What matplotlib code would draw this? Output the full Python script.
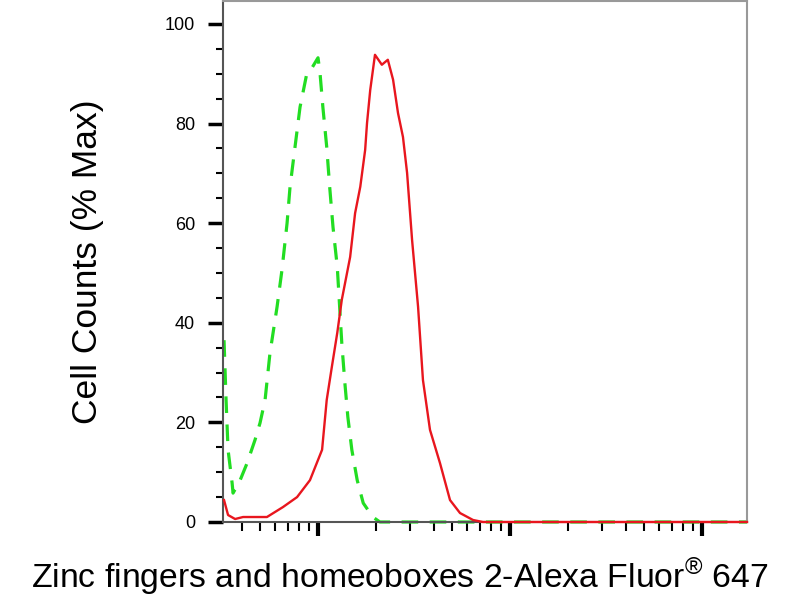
import numpy as np
import matplotlib
matplotlib.use("Agg")
import matplotlib.pyplot as plt
from matplotlib.ticker import LogLocator, MultipleLocator, NullFormatter

plt.rcParams['font.family'] = ['Liberation Sans', 'DejaVu Sans']
plt.rcParams['mathtext.fontset'] = 'custom'
plt.rcParams['mathtext.rm'] = 'Liberation Sans'

# Stained sample (red, solid)
red_x = [3.24, 3.40, 3.70, 4.07, 5.42, 6.57, 7.78, 9.08, 10.5, 11.1, 11.8, 12.6,
         13.3, 14.7, 15.6, 16.6, 17.6, 18.0, 18.7, 19.8, 21.5, 23.1, 24.6, 26.1,
         27.7, 29.1, 30.9, 33.2, 35.2, 38.3, 43.2, 48.7, 54.9, 64.2, 72.3, 294, 1715]
red_y = [4.4, 1.4, 0.6, 1.0, 1.0, 3.0, 5.0, 8.4, 14.5, 24.5, 31.1, 38.0,
         44.6, 53.2, 62.0, 67.3, 74.7, 80.1, 86.7, 93.8, 91.8, 92.8, 88.8, 82.1,
         77.3, 70.1, 56.6, 43.2, 28.5, 18.5, 11.8, 4.4, 1.8, 0.4, 0, 0, 0]

# Isotype control (green, dashed)
green_x = [3.24, 3.32, 3.40, 3.57, 3.61, 3.93, 4.27, 4.70, 4.99, 5.30, 5.62, 6.12,
           6.49, 6.90, 7.15, 7.59, 8.06, 8.76, 9.31, 10.0, 10.24, 10.6, 11.1, 11.5,
           11.97, 12.6, 13.3, 13.8, 14.3, 15.0, 16.0, 17.2, 19.3, 21.0, 1715]
green_y = [36.5, 24.5, 14.5, 7.8, 5.8, 8.4, 11.8, 16.5, 19.9, 24.5, 33.9, 43.2,
           50.6, 60.0, 67.3, 75.3, 83.3, 90.2, 91.2, 93.2, 90.2, 83.3, 75.3, 67.3,
           59.2, 51.2, 35.9, 27.9, 21.1, 14.5, 8.4, 3.8, 1.0, 0, 0]

y_ticks = [0, 20, 40, 60, 80, 100]

fig = plt.figure(figsize=(8, 6), dpi=100)
ax = fig.add_axes([223 / 800, 1 - 522 / 600, 524 / 800, 521 / 600])

ax.plot(green_x, green_y, color='#22dd22', lw=2.3, linestyle=(0, (5.2, 3.6)),
        clip_on=False, zorder=2)
ax.plot(red_x, red_y, color='#e8161e', lw=1.7, clip_on=False, zorder=3)

ax.set_xscale('log')
ax.set_xlim(3.2, 1715)
ax.set_ylim(0, 104.6)

ax.xaxis.set_major_locator(LogLocator(base=10, numticks=10))
ax.xaxis.set_minor_locator(LogLocator(base=10, subs=np.arange(2, 10), numticks=10))
ax.xaxis.set_major_formatter(NullFormatter())
ax.xaxis.set_minor_formatter(NullFormatter())
ax.set_yticks(y_ticks)
ax.yaxis.set_minor_locator(MultipleLocator(5))

ax.tick_params(axis='x', which='major', direction='out', length=10, width=3, color='black')
ax.tick_params(axis='x', which='minor', direction='out', length=6.5, width=1.5, color='black')
ax.tick_params(axis='y', which='major', direction='out', length=11, width=2.5, color='black',
               labelsize=13, pad=9)
ax.tick_params(axis='y', which='minor', direction='out', length=5, width=1.5, color='black')

for side in ['left', 'bottom']:
    ax.spines[side].set_color('#555555')
    ax.spines[side].set_linewidth(1.5)
for side in ['top', 'right']:
    ax.spines[side].set_color('#999999')
    ax.spines[side].set_linewidth(1.5)

fig.text(88 / 800, 1 - 262 / 600, 'Cell Counts (% Max)', rotation=90,
         ha='center', va='center', fontsize=25.5)
fig.text(0.5, 1 - 588 / 600, r'Zinc fingers and homeoboxes 2-Alexa Fluor$^{\mathrm{®}}$ 647',
         ha='center', va='baseline', fontsize=24.3)

fig.savefig('out.png', dpi=100)
